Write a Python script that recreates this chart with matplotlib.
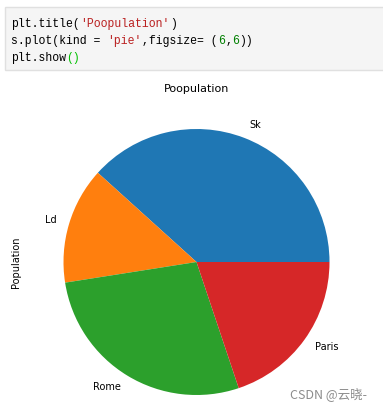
import matplotlib.pyplot as plt
from matplotlib.patches import Rectangle

# pie data
cities = ['Sk', 'Ld', 'Rome', 'Paris']
population = [5.4, 2.0, 3.9, 2.8]
colors = ['#1f77b4', '#ff7f0e', '#2ca02c', '#d62728']

# code cell text, split in coloured pieces
code_lines = [
    [("plt.title(", 'black'), ("'Poopulation'", '#ba2121'), (")", 'black')],
    [("s.plot(kind = ", 'black'), ("'pie'", '#ba2121'), (",figsize= (", 'black'),
     ("6", '#008000'), (",", 'black'), ("6", '#008000'), ("))", 'black')],
    [("plt.show", 'black'), ("()", '#00c000')],
]

W, H = 383, 409
fig = plt.figure(figsize=(W / 100, H / 100), dpi=100)

# code cell box
fig.patches.append(Rectangle((4.5 / W, 1 - 70 / H), 1.0, 63 / H, transform=fig.transFigure,
                             fc='#f5f5f5', ec='#e0e0e0', lw=1, figure=fig))
fs_code = 8.3
cw = fs_code / 72 * 100 * 0.6  # monospace char width in px
for i, line in enumerate(code_lines):
    n = 0
    for txt, col in line:
        fig.text((10.7 + n * cw) / W, 1 - (27 + 17 * i) / H, txt, color=col,
                 fontsize=fs_code, family='Liberation Mono', va='baseline')
        n += len(txt)

# pie axes
r = 133
cx, cy = 196.5, 262
lim = 1.05
size = 2 * lim * r
ax = fig.add_axes([(cx - size / 2) / W, (H - cy - size / 2) / H, size / W, size / H])
wedges, texts = ax.pie(population, labels=cities, colors=colors,
                       textprops={'fontsize': 7})
ax.set_xlim(-lim, lim)
ax.set_ylim(-lim, lim)
ax.set_ylabel('Population', fontsize=7)
ax.yaxis.set_label_coords((21 - (cx - size / 2)) / size, 0.5)

fig.text(cx / W, 1 - 89 / H, 'Poopulation', fontsize=8, ha='center', va='center')

fig.text(329 / W, 1 - 394 / H, 'CSDN @云晓-', fontsize=9, color='#8c8c8c',
         ha='center', va='center', family=['Noto Sans CJK SC', 'DejaVu Sans'])

fig.savefig('out.png', dpi=100)
